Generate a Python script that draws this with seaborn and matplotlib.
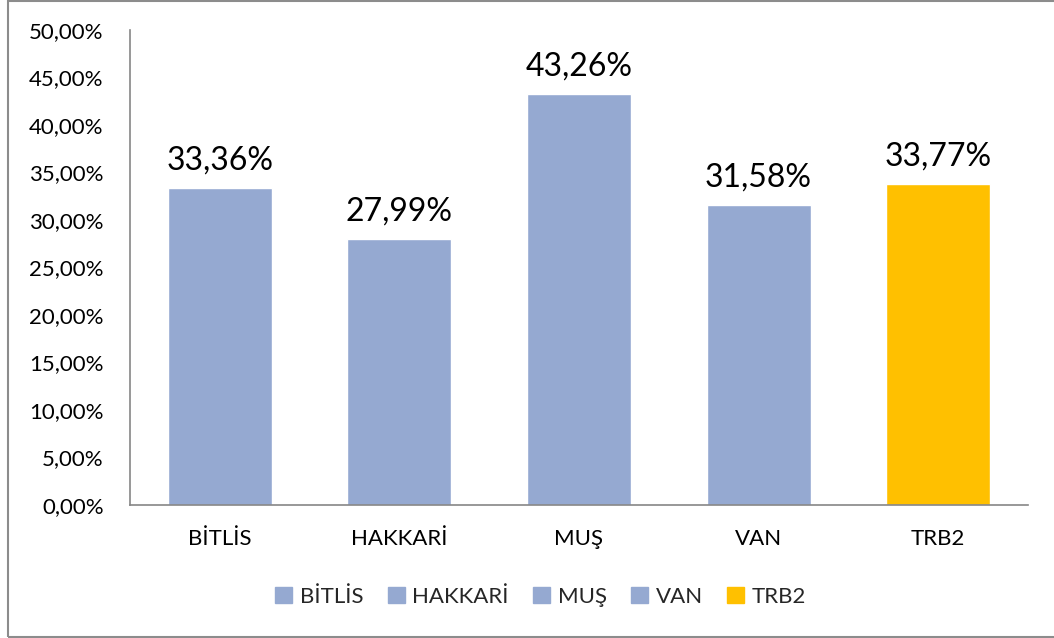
import matplotlib
matplotlib.use("Agg")
import matplotlib.pyplot as plt
from matplotlib.patches import Rectangle
from matplotlib.ticker import FuncFormatter
import seaborn as sns

# Datos
regiones = ["BİTLİS", "HAKKARİ", "MUŞ", "VAN", "TRB2"]
valores = [33.36, 27.99, 43.26, 31.58, 33.77]
colores = ["#95A9D1", "#95A9D1", "#95A9D1", "#95A9D1", "#FFC000"]

sns.set_style("white")
plt.rcParams['font.family'] = ['Lato', 'DejaVu Sans']

fig = plt.figure(figsize=(10.54, 6.38), dpi=100)
ax = fig.add_axes([130 / 1054, 1 - 505 / 638, 898 / 1054, 475 / 638])

sns.barplot(x=regiones, y=valores, hue=regiones, palette=colores,
            width=0.58, dodge=False, legend=False, ax=ax, saturation=1)

ax.set_ylim(0, 50)
ax.set_xlim(-0.5, len(regiones) - 0.5)
ax.set_yticks(range(0, 51, 5))
ax.yaxis.set_major_formatter(FuncFormatter(lambda v, p: f"{v:.2f}%".replace(".", ",")))
ax.tick_params(axis='both', length=0, labelsize=16, colors='black')
ax.tick_params(axis='y', pad=19)
ax.tick_params(axis='x', pad=17)
ax.set_xlabel("")
ax.set_ylabel("")

for lado in ['top', 'right']:
    ax.spines[lado].set_visible(False)
for lado in ['left', 'bottom']:
    ax.spines[lado].set_color('#868686')
    ax.spines[lado].set_linewidth(1.2)

for cont in ax.containers:
    ax.bar_label(cont, labels=[f"{v:.2f}%".replace(".", ",") for v in cont.datavalues],
                 fontsize=23, padding=9, color='black')

# Leyenda
handles = [Rectangle((0, 0), 1, 1, color=c) for c in colores]
fig.legend(handles, regiones, loc='center', bbox_to_anchor=(0.513, 1 - 597 / 638),
           ncol=5, frameon=False, fontsize=16, handlelength=0.75, handleheight=0.75,
           handletextpad=0.35, columnspacing=1.1)

# Borde del gráfico
fig.patches.append(Rectangle((8 / 1054, 1 / 638), 1.0, 1 - 2 / 638, transform=fig.transFigure,
                             fill=False, edgecolor='#8C8C8C', linewidth=1.5))

fig.savefig("out.png", dpi=100)
